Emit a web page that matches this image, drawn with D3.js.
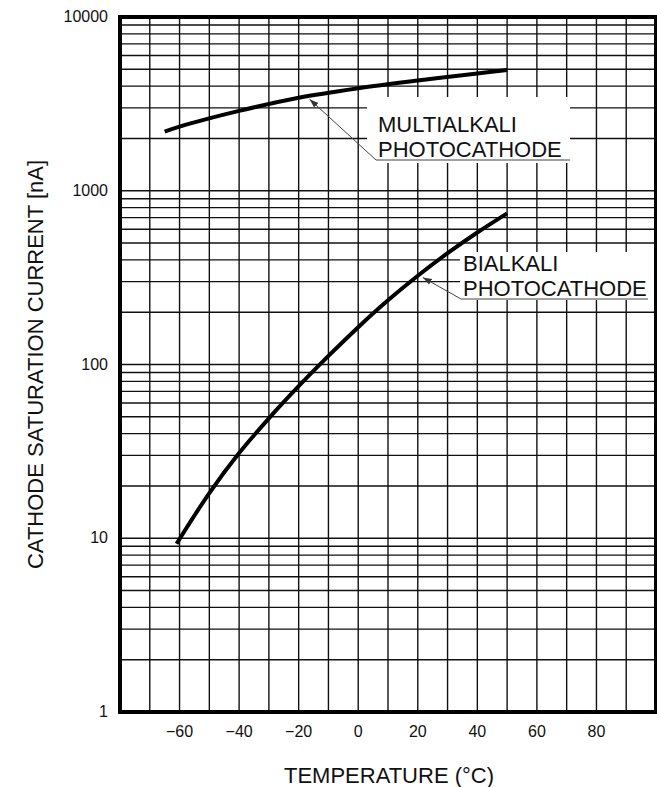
<!DOCTYPE html>
<html>
<head>
<meta charset="utf-8">
<script src="https://cdn.jsdelivr.net/npm/d3@7"></script>
<style>
  body { margin: 0; background: #fff; }
  text { font-family: "Liberation Sans", Arial, sans-serif; fill: #111; }
</style>
</head>
<body>
<div id="chart"></div>
<script>
const width = 657;
const height = 787;
const margin = { top: 17, right: 1, bottom: 75, left: 120 };

// Dados
const multiTemp = [-65, -60, -40, -20, 0, 20, 40, 50];
const multiCurrent = [2190, 2340, 2880, 3430, 3890, 4310, 4730, 4950];

const biTemp = [-61, -50, -40, -30, -20, -10, 0, 10, 20, 30, 40, 50];
const biCurrent = [9.3, 18.2, 30.9, 49, 75, 112, 164, 234, 324, 437, 575, 741];

const xTicks = [-60, -40, -20, 0, 20, 40, 60, 80];
const yTicks = [1, 10, 100, 1000, 10000];

const svg = d3.select("#chart")
  .append("svg")
  .attr("width", width)
  .attr("height", height);

const x = d3.scaleLinear()
  .domain([-80, 100])
  .range([margin.left, width - margin.right]);

const y = d3.scaleLog()
  .domain([1, 10000])
  .range([height - margin.bottom, margin.top]);

// Grade
const grid = svg.append("g").attr("stroke", "#111").attr("stroke-width", 1.4);

d3.range(-70, 100, 10).forEach(t => {
  grid.append("line")
    .attr("x1", x(t)).attr("x2", x(t))
    .attr("y1", y(1)).attr("y2", y(10000));
});

y.ticks(40).filter(v => v > 1 && v < 10000).forEach(v => {
  grid.append("line")
    .attr("x1", x(-80)).attr("x2", x(100))
    .attr("y1", y(v)).attr("y2", y(v));
});

// Curvas
const line = d3.line()
  .x(d => x(d[0]))
  .y(d => y(d[1]))
  .curve(d3.curveCatmullRom);

svg.append("path")
  .datum(d3.zip(multiTemp, multiCurrent))
  .attr("d", line)
  .attr("fill", "none")
  .attr("stroke", "#000")
  .attr("stroke-width", 4);

svg.append("path")
  .datum(d3.zip(biTemp, biCurrent))
  .attr("d", line)
  .attr("fill", "none")
  .attr("stroke", "#000")
  .attr("stroke-width", 4);

// Anotações
svg.append("defs").append("marker")
  .attr("id", "seta")
  .attr("viewBox", "0 0 10 10")
  .attr("refX", 10).attr("refY", 5)
  .attr("markerWidth", 9).attr("markerHeight", 9)
  .attr("orient", "auto")
  .append("path")
  .attr("d", "M0,1.5L10,5L0,8.5z")
  .attr("fill", "#333");

const notas = [
  { lines: ["MULTIALKALI", "PHOTOCATHODE"], tipT: -17, tipV: 3500, tx: 378, ty: 132, box: [367, 97, 570, 163], ulEnd: 570 },
  { lines: ["BIALKALI", "PHOTOCATHODE"], tipT: 21, tipV: 330, tx: 463, ty: 271, box: [460, 252, 656, 300], ulEnd: 648 }
];

notas.forEach(n => {
  svg.append("rect")
    .attr("x", n.box[0]).attr("y", n.box[1])
    .attr("width", n.box[2] - n.box[0]).attr("height", n.box[3] - n.box[1])
    .attr("fill", "#fff");
  const ulY = n.ty + 28;
  svg.append("polyline")
    .attr("points", `${n.ulEnd},${ulY} ${n.tx - 2},${ulY} ${x(n.tipT) + 2},${y(n.tipV) + 3}`)
    .attr("fill", "none")
    .attr("stroke", "#444")
    .attr("stroke-width", 1)
    .attr("marker-end", "url(#seta)");
  n.lines.forEach((s, i) => {
    svg.append("text")
      .attr("x", n.tx)
      .attr("y", n.ty + i * 24.5)
      .attr("font-size", 22)
      .text(s);
  });
});

// Borda
svg.append("rect")
  .attr("x", x(-80)).attr("y", y(10000))
  .attr("width", x(100) - x(-80)).attr("height", y(1) - y(10000))
  .attr("fill", "none")
  .attr("stroke", "#000")
  .attr("stroke-width", 4);

// Eixos
svg.selectAll(".ytick")
  .data(yTicks)
  .enter()
  .append("text")
  .attr("x", margin.left - 12)
  .attr("y", d => y(d) + 5)
  .attr("text-anchor", "end")
  .attr("font-size", 16)
  .text(d => d);

svg.selectAll(".xtick")
  .data(xTicks)
  .enter()
  .append("text")
  .attr("x", d => x(d))
  .attr("y", 737)
  .attr("text-anchor", "middle")
  .attr("font-size", 16)
  .text(d => d < 0 ? "\u2212" + Math.abs(d) : d);

svg.append("text")
  .attr("x", 389)
  .attr("y", 783)
  .attr("text-anchor", "middle")
  .attr("font-size", 22)
  .text("TEMPERATURE (\u00B0C)");

svg.append("text")
  .attr("transform", `translate(43, ${(y(1) + y(10000)) / 2}) rotate(-90)`)
  .attr("text-anchor", "middle")
  .attr("font-size", 22)
  .text("CATHODE SATURATION CURRENT [nA]");
</script>
</body>
</html>
